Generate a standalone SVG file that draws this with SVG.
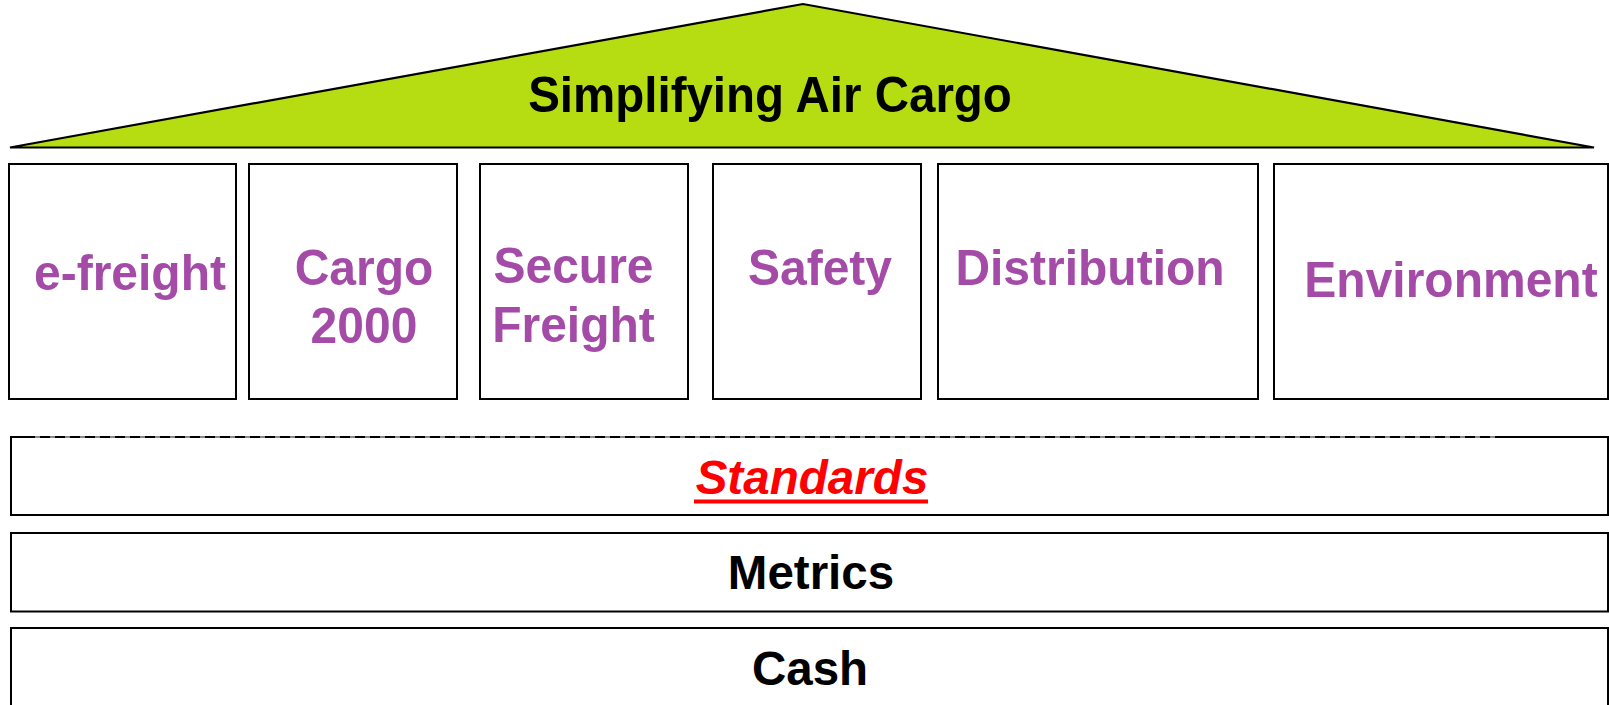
<svg xmlns="http://www.w3.org/2000/svg" width="1609" height="705" viewBox="0 0 1609 705">
<style>
  .box { fill: #ffffff; stroke: #000000; stroke-width: 2; }
  .lbl { font-family: "Liberation Sans", Arial, sans-serif; font-weight: bold; font-size: 48px; fill: #A44BA8; text-anchor: middle; }
  .blk { font-family: "Liberation Sans", Arial, sans-serif; font-weight: bold; font-size: 47.5px; fill: #000000; text-anchor: middle; }
  .std { font-family: "Liberation Sans", Arial, sans-serif; font-weight: bold; font-style: italic; font-size: 47.6px; fill: #FF0000; text-anchor: middle; }
</style>
<rect x="0" y="0" width="1609" height="705" fill="#ffffff"/>
<g id="roof">
  <polygon points="10,147.5 803,4 1594,147.5" fill="#B6DC12" stroke="#000000" stroke-width="2.2" stroke-linejoin="miter"/>
  <text class="blk" transform="translate(770,112) scale(1,1.06)" font-size="48.6">Simplifying Air Cargo</text>
</g>
<g id="pillar-efreight">
  <rect class="box" x="9" y="164" width="227" height="235"/>
  <text class="lbl" transform="translate(130,290) scale(1,1.04)">e-freight</text>
</g>
<g id="pillar-cargo2000">
  <rect class="box" x="249" y="164" width="208" height="235"/>
  <text class="lbl" transform="translate(364,285) scale(1,1.04)">Cargo</text>
  <text class="lbl" transform="translate(364,343) scale(1,1.04)">2000</text>
</g>
<g id="pillar-securefreight">
  <rect class="box" x="480" y="164" width="208" height="235"/>
  <text class="lbl" transform="translate(573.5,283) scale(1,1.04)">Secure</text>
  <text class="lbl" transform="translate(573.5,342) scale(1,1.04)">Freight</text>
</g>
<g id="pillar-safety">
  <rect class="box" x="713" y="164" width="208" height="235"/>
  <text class="lbl" transform="translate(820,285) scale(1,1.04)">Safety</text>
</g>
<g id="pillar-distribution">
  <rect class="box" x="938" y="164" width="320" height="235"/>
  <text class="lbl" transform="translate(1090,285) scale(1,1.04)">Distribution</text>
</g>
<g id="pillar-environment">
  <rect class="box" x="1274" y="164" width="334" height="235"/>
  <text class="lbl" transform="translate(1451,297) scale(1,1.04)">Environment</text>
</g>
<g id="standards">
  <rect class="box" x="11" y="437" width="1597" height="78"/>
  <line x1="25" y1="437" x2="1499" y2="437" stroke="#8a8a8a" stroke-width="2"/>
  <line x1="25" y1="437" x2="1499" y2="437" stroke="#000000" stroke-width="2" stroke-dasharray="10 5"/>
  <text class="std" x="812" y="494">Standards</text>
  <rect x="694" y="499.5" width="234" height="4" fill="#FF0000"/>
</g>
<g id="metrics">
  <rect class="box" x="11" y="533" width="1597" height="78.5"/>
  <text class="blk" x="811" y="589">Metrics</text>
</g>
<g id="cash">
  <rect class="box" x="11" y="628" width="1597" height="90"/>
  <text class="blk" x="810" y="685" font-size="47">Cash</text>
</g>
<g id="connectors"></g>
</svg>
